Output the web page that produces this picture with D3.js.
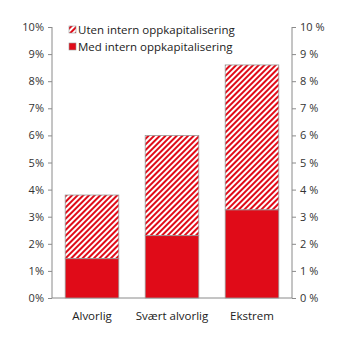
<!DOCTYPE html>
<html><head><meta charset="utf-8">
<script src="https://cdn.jsdelivr.net/npm/d3@7"></script>
<style>body{margin:0;background:#fff}svg{display:block}text{font-family:"Open Sans",sans-serif}</style>
</head><body><svg id="c" width="345" height="341"></svg>
<script>
const categories = ["Alvorlig", "Svært alvorlig", "Ekstrem"];
const medIntern = [1.45, 2.3, 3.25];
const utenInternTotal = [3.8, 6.0, 8.6];
const seriesNames = ["Uten intern oppkapitalisering", "Med intern oppkapitalisering"];
const yTicks = [0,1,2,3,4,5,6,7,8,9,10];

const svg = d3.select("#c");
const m = {l:52, r:292, t:27, b:298};
const red = "#e00b18", grey = "#8a8a8a";
const defs = svg.append("defs");
const pat = defs.append("pattern").attr("id","hatch").attr("patternUnits","userSpaceOnUse")
  .attr("width",4).attr("height",4).attr("patternTransform","rotate(45)");
pat.append("rect").attr("width",4).attr("height",4).attr("fill","#fff");
pat.append("rect").attr("x",0).attr("width",2).attr("height",4).attr("fill",red);

const x = d3.scaleBand().domain(categories).range([m.l, m.r]).paddingInner(0.33).paddingOuter(0.165);
const y = d3.scaleLinear().domain([0,10]).range([m.b, m.t]);

const left = svg.append("g").attr("transform",`translate(${m.l},0)`)
  .call(d3.axisLeft(y).tickValues(yTicks).tickSize(4).tickPadding(4).tickFormat(d=>d+"%"));
const right = svg.append("g").attr("transform",`translate(${m.r},0)`)
  .call(d3.axisRight(y).tickValues(yTicks).tickSize(4).tickPadding(4).tickFormat(d=>d+" %"));
[left,right].forEach(g=>{
  g.select(".domain").attr("stroke",grey).attr("d", g===left?`M0,${m.t}V${m.b}`:`M0,${m.t}V${m.b}`);
  g.selectAll(".tick line").attr("stroke",grey);
  g.selectAll(".tick text").attr("fill","#333").style("font-size","11px");
});
svg.append("line").attr("x1",m.l).attr("x2",m.r).attr("y1",m.b).attr("y2",m.b).attr("stroke",grey);

const bars = svg.append("g");
categories.forEach((c,i)=>{
  bars.append("rect").attr("x",x(c)).attr("width",x.bandwidth())
    .attr("y",y(utenInternTotal[i])).attr("height",y(medIntern[i])-y(utenInternTotal[i]))
    .attr("fill","url(#hatch)").attr("stroke","#999").attr("stroke-width",0.8);
  bars.append("rect").attr("x",x(c)).attr("width",x.bandwidth())
    .attr("y",y(medIntern[i])).attr("height",y(0)-y(medIntern[i]))
    .attr("fill",red).attr("stroke","#999").attr("stroke-width",0.8);
});

svg.append("g").selectAll("text").data(categories).join("text")
  .attr("x",d=>x(d)+x.bandwidth()/2).attr("y",320).attr("text-anchor","middle")
  .attr("fill","#222").style("font-size","11.5px").text(d=>d);

const leg = svg.append("g");
seriesNames.forEach((s,i)=>{
  const yy = 26 + i*17;
  leg.append("rect").attr("x",69).attr("y",yy).attr("width",7).attr("height",7)
    .attr("fill", i===0?"url(#hatch)":red).attr("stroke","#999").attr("stroke-width",0.6);
  leg.append("text").attr("x",78).attr("y",yy+7.5).attr("fill","#222").style("font-size","11.5px").text(s);
});
</script></body></html>
